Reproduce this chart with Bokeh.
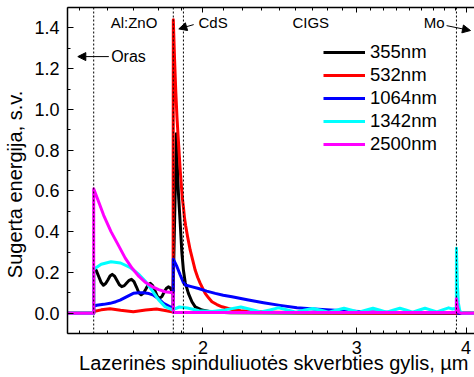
from bokeh.plotting import figure
from bokeh.models import (Range1d, FixedTicker, PrintfTickFormatter, LogAxis, Span, Label,
                          Arrow, NormalHead, Legend, LegendItem, CustomJSTickFormatter)
from bokeh.embed import file_html
from bokeh.resources import INLINE

# ---------------- data (depth in µm, absorbed energy in a.u.) ----------------
series_labels = ["355nm", "532nm", "1064nm", "1342nm", "2500nm"]
series_colors = ["#000000", "#ff0000", "#0000ff", "#00ffff", "#ff00ff"]

d355 = [1.40, 1.50, 1.50, 1.51, 1.52, 1.53, 1.539, 1.548, 1.557, 1.566, 1.575, 1.585, 1.595, 1.605,
        1.615, 1.626, 1.636, 1.647, 1.657, 1.668, 1.679, 1.689, 1.70, 1.71, 1.721, 1.731, 1.741,
        1.752, 1.763, 1.773, 1.784, 1.795, 1.805, 1.816, 1.826, 1.835, 1.843, 1.849, 1.865, 1.868,
        1.875, 1.884, 1.892, 1.90, 1.909, 1.925, 1.943, 1.96, 1.995, 2.048, 2.15, 2.5, 4.09]
e355 = [0, 0, 0.22, 0.21, 0.18, 0.15, 0.137, 0.145, 0.163, 0.182, 0.19, 0.181, 0.16, 0.139,
        0.13, 0.135, 0.148, 0.161, 0.166, 0.155, 0.128, 0.101, 0.09, 0.098, 0.118, 0.138, 0.146,
        0.135, 0.11, 0.084, 0.073, 0.081, 0.101, 0.121, 0.129, 0.124, 0.108, 0.095, 0.88, 0.76,
        0.59, 0.44, 0.30, 0.21, 0.15, 0.097, 0.056, 0.031, 0.015, 0.006, 0.002, 0.0, 0.0]

d532 = [1.40, 1.50, 1.50, 1.53, 1.566, 1.61, 1.665, 1.72, 1.77, 1.81, 1.849, 1.85, 1.856, 1.862,
        1.868, 1.874, 1.884, 1.894, 1.90, 1.905, 1.911, 1.92, 1.934, 1.947, 1.96, 1.973, 1.986,
        2.012, 2.03, 2.048, 2.075, 2.103, 2.159, 2.21, 2.27, 2.42, 2.6, 3.0, 4.09]
e532 = [0, 0, 0.008, 0.016, 0.021, 0.014, 0.007, 0.015, 0.02, 0.013, 0.006, 1.44, 1.25, 1.09,
        0.96, 0.86, 0.70, 0.57, 0.52, 0.47, 0.43, 0.38, 0.31, 0.26, 0.21, 0.175, 0.146,
        0.097, 0.075, 0.056, 0.042, 0.031, 0.018, 0.012, 0.008, 0.004, 0.002, 0.0, 0.0]

d1064 = [1.40, 1.50, 1.50, 1.512, 1.54, 1.566, 1.59, 1.608, 1.635, 1.665, 1.69, 1.71, 1.735, 1.756,
         1.78, 1.803, 1.835, 1.849, 1.85, 1.868, 1.884, 1.90, 1.909, 1.94, 1.977, 2.02, 2.066,
         2.11, 2.159, 2.255, 2.346, 2.45, 2.562, 2.68, 2.798, 3.055, 3.336, 3.6, 3.89, 3.9, 3.915, 4.09]
e1064 = [0, 0, 0.035, 0.039, 0.043, 0.048, 0.056, 0.064, 0.08, 0.097, 0.10, 0.10, 0.096, 0.088,
         0.07, 0.048, 0.031, 0.025, 0.265, 0.228, 0.187, 0.15, 0.138, 0.13, 0.121, 0.108, 0.097,
         0.088, 0.08, 0.064, 0.051, 0.038, 0.026, 0.02, 0.015, 0.007, 0.003, 0.002, 0.002, 0.012, 0.0, 0.0]

d1342 = [1.40, 1.50, 1.50, 1.53, 1.57, 1.61, 1.65, 1.69, 1.72, 1.75, 1.78, 1.81, 1.849, 1.85,
         1.88, 1.92, 1.98, 2.05, 2.12, 2.21, 2.27, 2.33, 2.385, 2.44, 2.50, 2.555, 2.61, 2.67,
         2.73, 2.785, 2.84, 2.90, 2.96, 3.015, 3.07, 3.13, 3.19, 3.245, 3.30, 3.36, 3.42, 3.475,
         3.53, 3.59, 3.65, 3.705, 3.76, 3.82, 3.86, 3.899, 3.90, 3.91, 3.92, 3.935, 3.96, 4.09]
e1342 = [0, 0, 0.215, 0.24, 0.252, 0.246, 0.225, 0.19, 0.155, 0.11, 0.065, 0.032, 0.015, 0.018,
         0.03, 0.025, 0.012, 0.008, 0.016, 0.03, 0.018, 0.006, 0.015, 0.026, 0.015, 0.005, 0.014, 0.023,
         0.014, 0.005, 0.014, 0.024, 0.014, 0.005, 0.014, 0.024, 0.014, 0.005, 0.014, 0.024, 0.014, 0.005,
         0.014, 0.024, 0.015, 0.006, 0.016, 0.026, 0.02, 0.025, 0.318, 0.14, 0.05, 0.01, 0.0, 0.0]

d2500 = [1.40, 1.50, 1.50, 1.52, 1.54, 1.57, 1.60, 1.63, 1.66, 1.69, 1.72, 1.75, 1.78, 1.81,
         1.849, 1.85, 2.5, 3.899, 3.90, 3.91, 3.925, 3.95, 4.09]
e2500 = [0, 0, 0.61, 0.545, 0.48, 0.40, 0.335, 0.27, 0.22, 0.18, 0.15, 0.13, 0.115, 0.105,
         0.10, 0.003, 0.003, 0.003, 0.07, 0.03, 0.005, 0.0, 0.0]

layer_bounds = [1.5, 1.85, 1.9, 3.9]
x_major = [2, 3, 4]
y_major = [0.0, 0.2, 0.4, 0.6, 0.8, 1.0, 1.2, 1.4]
x_title = "Lazerinės spinduliuotės skverbties gylis, µm"
y_title = "Sugerta energija, s.v."

FONT = "Liberation Sans"

# ---------------- figure ----------------
p = figure(width=474, height=377, x_axis_type="log",
           x_range=Range1d(1.4, 4.09), y_range=Range1d(-0.1, 1.5),
           output_backend="svg", toolbar_location=None,
           min_border_left=67, min_border_right=0, min_border_top=7, min_border_bottom=44)
p.outline_line_color = None
p.grid.visible = False
p.background_fill_color = "white"
p.border_fill_color = "white"

x_minor = [n + j / 9 for n in (1, 2, 3) for j in range(1, 9) if 1.4 <= n + j / 9 <= 4.09]
y_minor = [round(-0.1 + 0.2 * k, 2) for k in range(9)]

xa = p.xaxis[0]
xa.ticker = FixedTicker(ticks=x_major, minor_ticks=x_minor)
xa.formatter = PrintfTickFormatter(format="%d")
ya = p.yaxis[0]
ya.ticker = FixedTicker(ticks=y_major, minor_ticks=y_minor)
ya.formatter = PrintfTickFormatter(format="%.1f")

for ax in (xa, ya):
    ax.axis_line_width = 1.5
    ax.axis_line_color = "black"
    ax.major_tick_line_color = "black"
    ax.minor_tick_line_color = "black"
    ax.major_tick_out = 0
    ax.minor_tick_out = 0
    ax.major_tick_in = 6
    ax.minor_tick_in = 3
    ax.major_label_text_font = FONT
    ax.major_label_text_font_size = "18px"
    ax.major_label_text_color = "black"
    ax.axis_label_text_font = FONT
    ax.axis_label_text_font_size = "20px"
    ax.axis_label_text_font_style = "normal"
    ax.axis_label_text_color = "black"

xa.axis_label = "\u00a0" + x_title
xa.major_label_text_line_height = 1.0
xa.axis_label_text_line_height = 1.0
xa.major_label_standoff = 7
xa.axis_label_standoff = -5
ya.axis_label = y_title + "\u00a0" * 5
ya.major_label_standoff = 8
ya.axis_label_standoff = 5

top = LogAxis(ticker=FixedTicker(ticks=x_major, minor_ticks=x_minor),
              formatter=CustomJSTickFormatter(code="return '';"))
top.axis_line_width = 1.5
top.major_tick_out = 0
top.minor_tick_out = 0
top.major_tick_in = 5
top.minor_tick_in = 3
top.major_label_text_font_size = "0px"
top.major_label_standoff = 0
p.add_layout(top, "above")

# ---------------- curves ----------------
depths = [d355, d532, d1064, d1342, d2500]
energies = [e355, e532, e1064, e1342, e2500]
renderers = []
for d, e, c in zip(depths, energies, series_colors):
    r = p.line(d, e, line_color=c, line_width=3, line_join="round")
    renderers.append(r)

# layer boundaries
for b in layer_bounds:
    p.add_layout(Span(location=b, dimension="height", line_color="black",
                      line_width=1, line_dash="2 2"))

# ---------------- annotations ----------------
def lab(x, y, t, size="15px", align="center"):
    p.add_layout(Label(x=x, y=y, text=t, text_font=FONT, text_font_size=size,
                       text_align=align, text_baseline="middle", text_color="black"))

lab(1.668, 1.426, "Al:ZnO")
lab(1.977, 1.426, "CdS", align="left")
lab(2.657, 1.426, "CIGS")
lab(3.677, 1.426, "Mo")
lab(1.644, 1.259, "Oras", size="16px")

def arrow(x0, y0, x1, y1):
    p.add_layout(Arrow(end=NormalHead(size=8, line_color="black", fill_color="black", line_width=1),
                       x_start=x0, y_start=y0, x_end=x1, y_end=y1,
                       line_color="black", line_width=1))

arrow(1.561, 1.259, 1.4385, 1.259)
arrow(1.952, 1.416, 1.877, 1.395)
arrow(3.800, 1.411, 4.047, 1.387)

# ---------------- legend ----------------
legend = Legend(items=[LegendItem(label=l, renderers=[r]) for l, r in zip(series_labels, renderers)],
                location=(256, 178))
legend.label_text_font = FONT
legend.label_text_font_size = "18.5px"
legend.label_text_color = "black"
legend.glyph_width = 42
legend.glyph_height = 22
legend.label_height = 22
legend.spacing = 1
legend.padding = 0
legend.margin = 0
legend.label_standoff = 5
legend.border_line_color = None
legend.background_fill_alpha = 0
p.add_layout(legend)

open("out.html", "w").write(file_html(p, INLINE))
